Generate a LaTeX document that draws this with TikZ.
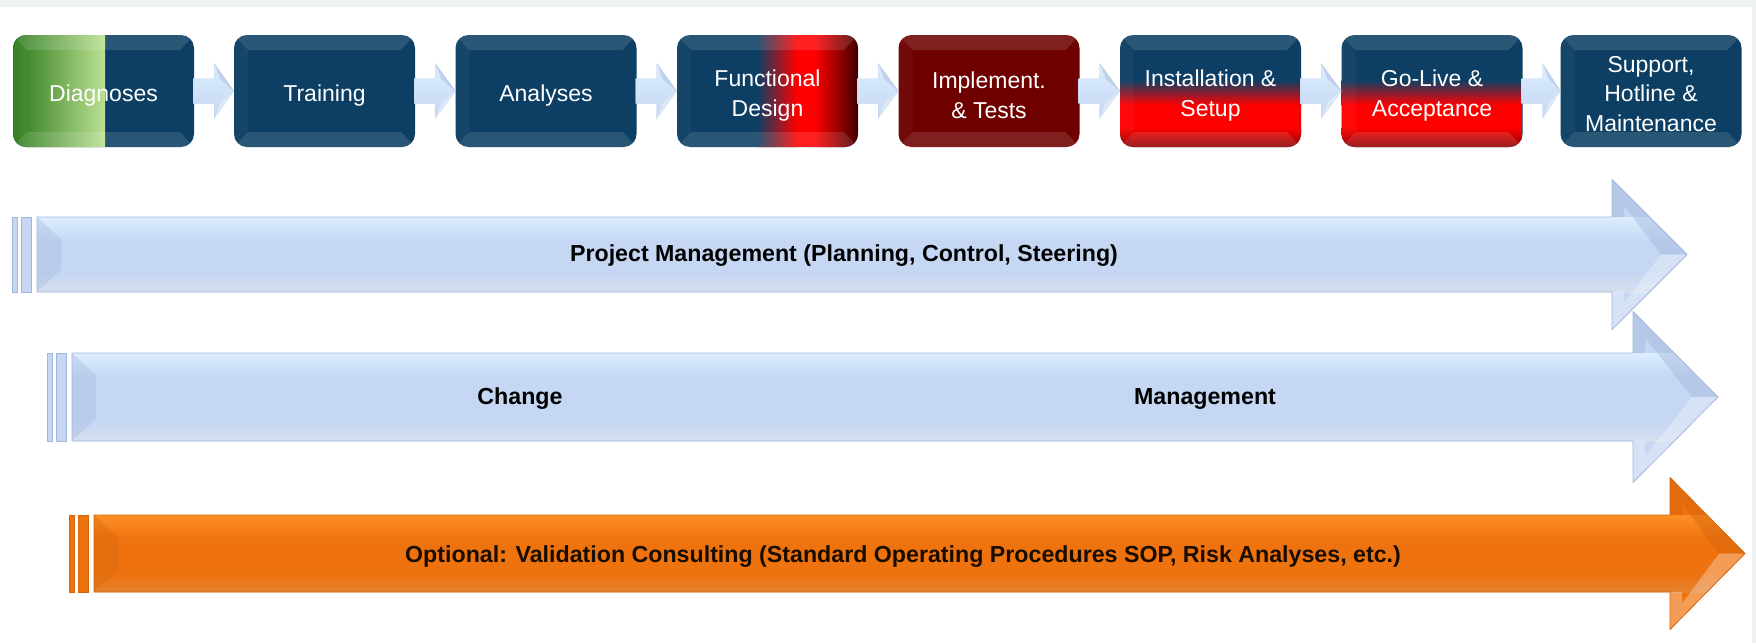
\documentclass[tikz,border=0pt]{standalone}
\usepackage{fontspec}
\setmainfont{Liberation Sans}
\usetikzlibrary{calc}
\definecolor{boxblue}{HTML}{0C3F63}
\definecolor{darkred}{HTML}{6E0000}
\definecolor{brightred}{HTML}{FF0000}
\definecolor{grnD}{HTML}{2C7A1C}
\definecolor{grnL}{HTML}{BCE192}
\definecolor{abTop}{HTML}{DCEEFE}
\definecolor{abMid}{HTML}{C5D7F3}
\definecolor{abBot}{HTML}{D6DFEF}
\definecolor{abEdge}{HTML}{A3B7DC}
\definecolor{orTop}{HTML}{FD8F26}
\definecolor{orMid}{HTML}{EE720E}
\definecolor{orBot}{HTML}{E5812F}
\definecolor{orEdge}{HTML}{D4650C}
\definecolor{topgrey}{HTML}{EEF2EE}
\newcommand\ppbox{%
  \path (path picture bounding box.north west) coordinate (bnw)
        (path picture bounding box.south east) coordinate (bse);
}
\newcommand\bevelcode{%
  \fill[white,opacity=.13] (bnw) -- (bse|-bnw) -- ($(bse|-bnw)+(-14,15)$) -- ($(bnw)+(14,15)$) -- cycle;
  \fill[white,opacity=.12] (bnw|-bse) -- (bse) -- ($(bse)+(-14,-15)$) -- ($(bnw|-bse)+(14,-15)$) -- cycle;
  \fill[white,opacity=.04] (bnw) -- ($(bnw)+(14,15)$) -- ($(bnw|-bse)+(14,-15)$) -- (bnw|-bse) -- cycle;
}
\newcommand\greencode{%
  \shade[left color=grnD, right color=grnL] (bnw) rectangle ($(bnw|-bse)+(92,0)$);
}
\newcommand\hredcode{%
  \shade[left color=boxblue, right color=brightred] ($(bnw)+(80,0)$) rectangle ($(bnw|-bse)+(120,0)$);
  \fill[brightred] ($(bnw)+(119.5,0)$) rectangle ($(bnw|-bse)+(138,0)$);
  \shade[left color=brightred, right color=red!25!black] ($(bnw)+(137.5,0)$) rectangle (bse);
}
\newcommand\vredcode{%
  \shade[top color=boxblue, bottom color=brightred] ($(bnw)+(0,45)$) rectangle ($(bse|-bnw)+(0,70)$);
  \fill[brightred] ($(bnw)+(0,69.5)$) rectangle ($(bse|-bnw)+(0,93)$);
  \shade[top color=brightred, bottom color=red!55!black] ($(bnw)+(0,92.5)$) rectangle (bse);
}
\newcommand\conn[2]{%
  \shade[top color=abTop, bottom color=abMid, draw=abEdge!60, line width=.4pt]
    ($(#1.east)+(-1,-12.5)$) -- ($(#1.east)+(20,-12.5)$) -- ($(#1.east)+(20,-27.5)$)
    -- (#2.west) -- ($(#1.east)+(20,27.5)$) -- ($(#1.east)+(20,12.5)$)
    -- ($(#1.east)+(-1,12.5)$) -- cycle;
  \fill[white,opacity=.35] ($(#1.east)+(20,27.5)$) -- (#2.west) -- ($(#1.east)+(26,12)$) -- cycle;
  \fill[abEdge,opacity=.45] ($(#1.east)+(20,-27.5)$) -- (#2.west) -- ($(#1.east)+(26,-12)$) -- cycle;
}
% #1 x0, #2 head base x, #3 tip x, #4 centre y, #5 shaft half height, #6 head half height, #7 colour prefix
\newcommand\bigarr[7]{%
  \begin{scope}
    \clip (#1,#4-#5) -- (#2,#4-#5) -- (#2,#4-#6) -- (#3,#4) -- (#2,#4+#6) -- (#2,#4+#5) -- (#1,#4+#5) -- cycle;
    \fill[#7Mid] (#1,#4-#6) rectangle (#3,#4+#6);
    \shade[top color=#7Top, bottom color=#7Mid] (#1,#4-#5) rectangle (#3,#4-#5+24);
    \shade[top color=#7Mid, bottom color=#7Bot] (#1,#4+#5-20) rectangle (#3,#4+#5);
    \fill[#7Edge,opacity=.45] (#2,#4-#6) -- (#3,#4) -- (#3-26,#4) -- (#2+12,#4-#6+26) -- (#2+12,#4-#5) -- (#2,#4-#5) -- cycle;
    \fill[white,opacity=.3] (#2,#4+#6) -- (#3,#4) -- (#3-26,#4) -- (#2+12,#4+#6-26) -- (#2+12,#4+#5) -- (#2,#4+#5) -- cycle;
    \fill[#7Edge,opacity=.35] (#1,#4-#5) -- (#1+24,#4-#5+22) -- (#1+24,#4+#5-22) -- (#1,#4+#5) -- cycle;
  \end{scope}
  \draw[#7Edge, line width=.8pt, line join=round] (#1,#4-#5) -- (#2,#4-#5) -- (#2,#4-#6) -- (#3,#4) -- (#2,#4+#6) -- (#2,#4+#5) -- (#1,#4+#5) -- cycle;
  \filldraw[fill=#7Mid, draw=#7Edge, line width=.8pt] (#1-25,#4-#5) rectangle (#1-20,#4+#5);
  \filldraw[fill=#7Mid, draw=#7Edge, line width=.8pt] (#1-16,#4-#5) rectangle (#1-6,#4+#5);
}
\tikzset{
  phase/.style={rounded corners=13pt, minimum width=181pt, minimum height=112pt,
    inner sep=0pt, fill=boxblue,
    path picture={\begin{scope}[sharp corners]\ppbox\bevelcode\end{scope}}},
  greenphase/.style={phase, path picture={\begin{scope}[sharp corners]\ppbox\greencode\bevelcode\end{scope}}},
  hredphase/.style={phase, path picture={\begin{scope}[sharp corners]\ppbox\hredcode\bevelcode\end{scope}}},
  vredphase/.style={phase, path picture={\begin{scope}[sharp corners]\ppbox\vredcode\bevelcode\end{scope}}},
  darkphase/.style={phase, fill=darkred},
  phasetxt/.style={text=white, align=center, inner sep=0pt, font=\fontsize{23}{29.5}\selectfont},
  lbl/.style={font=\bfseries\fontsize{23.2}{28}\selectfont, text=black, inner sep=0pt}
}
\begin{document}
\begin{tikzpicture}[x=1pt,y=-1pt]
\useasboundingbox (0,0) rectangle (1756,643);
\fill[white] (0,0) rectangle (1756,643);
\fill[topgrey] (0,0) rectangle (1756,7);
\fill[topgrey] (1752,0) rectangle (1756,643);

\node[greenphase] (diag) at (103.5,91) {};
\node[phase] (train) at (324.5,91) {};
\node[phase] (anal) at (546,91) {};
\node[hredphase] (func) at (767.5,91) {};
\node[darkphase] (impl) at (989,91) {};
\node[vredphase] (inst) at (1210.5,91) {};
\node[vredphase] (golive) at (1432,91) {};
\node[phase] (supp) at (1651,91) {};

\node[phasetxt] (diagT) at ($(diag.center)+(0,4.5)$) {Diagnoses};
\node[phasetxt] (trainT) at ($(train.center)+(0,4.5)$) {Training};
\node[phasetxt] (analT) at ($(anal.center)+(0,4.5)$) {Analyses};
\node[phasetxt] (funcT) at ($(func.center)+(0,4.5)$) {Functional\\Design};
\node[phasetxt] (implT) at ($(impl.center)+(0,4.5)$) {Implement.\\\& Tests};
\node[phasetxt] (instT) at ($(inst.center)+(0,4.5)$) {Installation \&\\Setup};
\node[phasetxt] (goliveT) at ($(golive.center)+(0,4.5)$) {Go-Live \&\\Acceptance};
\node[phasetxt] (suppT) at ($(supp.center)+(0,3)$) {Support,\\Hotline \&\\Maintenance};

\conn{diag}{train}
\conn{train}{anal}
\conn{anal}{func}
\conn{func}{impl}
\conn{impl}{inst}
\conn{inst}{golive}
\conn{golive}{supp}

\bigarr{37}{1612}{1687}{254.5}{37.5}{75}{ab}
\bigarr{72}{1633}{1718}{397}{44}{85.5}{ab}
\bigarr{94}{1670}{1745}{553.5}{38.5}{76}{or}

\node[lbl] (pm) at (844,256) {Project Management (Planning, Control, Steering)};
\node[lbl] (chg) at (520,399) {Change};
\node[lbl] (mgt) at (1205,399) {Management};
\node[lbl, text=black!90!orange] (opt) at (903,557) {Optional: Validation Consulting (Standard Operating Procedures SOP, Risk Analyses, etc.)};
\end{tikzpicture}
\end{document}
